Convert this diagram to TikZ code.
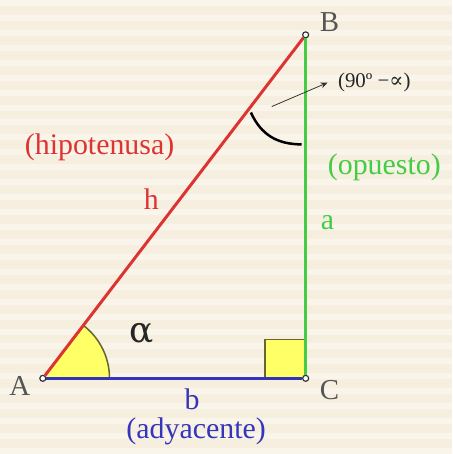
\documentclass[tikz,border=0pt]{standalone}
\usepackage{fontspec}
\setmainfont{Liberation Serif}
\newfontfamily\symfont{DejaVu Serif}
\usetikzlibrary{arrows.meta}
\definecolor{bgbase}{HTML}{F6EFDF}
\definecolor{bglight}{HTML}{FAF5EA}
\definecolor{hypred}{HTML}{DD3333}
\definecolor{oppgreen}{HTML}{44CC44}
\definecolor{adjblue}{HTML}{3535BB}
\definecolor{anglefill}{HTML}{FFFF66}
\definecolor{angleline}{HTML}{66662E}
\definecolor{vtxgray}{HTML}{555555}
\tikzset{
  vertex/.style={circle,draw=black!80,fill=white,line width=1.2pt,inner sep=0pt,minimum size=6pt},
  side/.style={line width=3pt},
  vlabel/.style={text=vtxgray,font=\fontsize{29}{31}\selectfont},
  lbl/.style={inner sep=0.5pt,font=\fontsize{30}{32}\selectfont},
  small/.style={font=\fontsize{21}{23}\selectfont}
}
\begin{document}
\begin{tikzpicture}[x=1pt,y=-1pt]
\fill[bgbase] (0,0) rectangle (454,452);
\foreach \y in {0,15,...,450} {\fill[bglight] (0,\y) rectangle (454,\y+6);}
\useasboundingbox (0,0) rectangle (454,452);
% angle at A
\fill[anglefill] (43,380) -- ++(67,0) arc[start angle=0,end angle=-52.6,radius=67] -- cycle;
\draw[angleline,line width=1.5pt] (43,380) ++(67,0) arc[start angle=0,end angle=-52.6,radius=67];
% right angle
\fill[anglefill] (266,341) rectangle (307,380);
\draw[angleline,line width=1.5pt] (307,341) -- (266,341) -- (266,380);
\node[vertex] (A) at (43,380) {};
\node[vertex] (B) at (307,35) {};
\node[vertex] (C) at (307,380) {};
\draw[side,hypred] (A) -- (B);
\draw[side,adjblue] (A) -- (C);
\draw[side,oppgreen] (C) -- (B);
% angle at B
\draw[black,line width=2.5pt] (252,113) .. controls (262,135) and (278,145) .. (303,145);
\coordinate (arrS) at (273,107);
\coordinate (arrE) at (329,83);
\draw[-{Stealth[length=7pt,width=6pt]},line width=0.8pt,black!80] (arrS) -- (arrE);
\node[small,anchor=west,text=black!85] (angB) at (336,83) {(90º −{\symfont ∝})};
\node[vlabel] (la) at (20,388) {A};
\node[vlabel] (lb) at (331,22) {B};
\node[vlabel] (lc) at (331,392) {C};
\node[lbl,text=hypred] (hyp) at (100,148) {(hipotenusa)};
\node[lbl,text=hypred] (h) at (152,200) {h};
\node[lbl,text=oppgreen] (opp) at (386,168) {(opuesto)};
\node[lbl,text=oppgreen] (a) at (329,224) {a};
\node[lbl,text=adjblue] (b) at (193,401) {b};
\node[lbl,text=adjblue] (adj) at (197,433) {(adyacente)};
\node[lbl,text=black!85,font=\fontsize{36}{38}\selectfont] (alpha) at (142,335) {{\symfont α}};
\end{tikzpicture}
\end{document}
